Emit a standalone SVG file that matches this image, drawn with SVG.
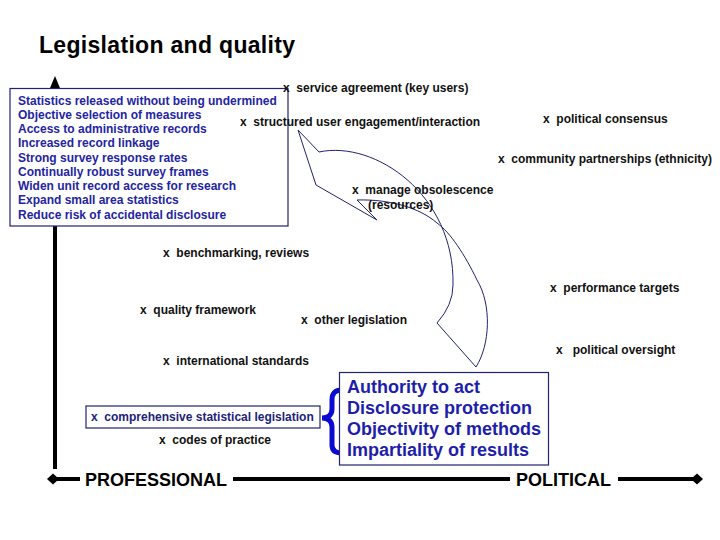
<svg xmlns="http://www.w3.org/2000/svg" width="720" height="540" viewBox="0 0 720 540">
<style>
.t{font-family:"Liberation Sans",Arial,sans-serif;font-weight:bold;font-size:12px;fill:#111}
.b{font-family:"Liberation Sans",Arial,sans-serif;font-weight:bold;font-size:12px;fill:#2424a2}
.a{font-family:"Liberation Sans",Arial,sans-serif;font-weight:bold;font-size:18px;fill:#1e1eaa}
.ax{font-family:"Liberation Sans",Arial,sans-serif;font-weight:bold;font-size:18px;fill:#000}
.box{fill:#fff;stroke:#22226e;stroke-width:1.2}
.axis{stroke:#000;stroke-width:4;fill:none}
.arr{fill:none;stroke:#22226e;stroke-width:1}
</style>
<rect width="720" height="540" fill="#fff"/>
<g id="title"><text x="39" y="53" font-family="Liberation Sans, Arial, sans-serif" font-weight="bold" font-size="23" fill="#000" textLength="256">Legislation and quality</text></g>
<g id="axes">
<polygon points="55,76 50,88 60,88" fill="#000"/>
<line class="axis" x1="55" y1="86" x2="55" y2="469"/>
<line class="axis" x1="57" y1="479" x2="80" y2="479"/>
<line class="axis" x1="233" y1="479" x2="510" y2="479"/>
<line class="axis" x1="618" y1="479" x2="694" y2="479"/>
<polygon points="47,479 53,473.5 59,479 53,484.5" fill="#000"/>
<polygon points="691,479 697,473.5 703,479 697,484.5" fill="#000"/>
<text class="ax" x="85" y="485.5">PROFESSIONAL</text>
<text class="ax" x="516" y="485.5">POLITICAL</text>
</g>
<g id="connectors">
<path class="arr" d="M298,130 L319,152 C375,140 455,195 453,285 Q453,305 437,323 L476,367 C490,345 492,305 477,280 C465,255 450,232 437,223 C420,208 390,199 357,200 L377,220 L316,185 Z"/>
<path d="M342,390 C335,390 332,393 332,400 L332,409 C332,415 328,418 322,418 C328,418 332,421 332,427 L332,445 C332,450 335,453 342,453" fill="none" stroke="#0a0ad2" stroke-width="5"/>
</g>
<g id="stats-box">
<rect class="box" x="10" y="88.5" width="278" height="137.5"/>
<text class="b" x="18" y="104.5">Statistics released without being undermined</text>
<text class="b" x="18" y="118.7">Objective selection of measures</text>
<text class="b" x="18" y="133">Access to administrative records</text>
<text class="b" x="18" y="147.2">Increased record linkage</text>
<text class="b" x="18" y="161.5">Strong survey response rates</text>
<text class="b" x="18" y="175.7">Continually robust survey frames</text>
<text class="b" x="18" y="190">Widen unit record access for research</text>
<text class="b" x="18" y="204.2">Expand small area statistics</text>
<text class="b" x="18" y="218.5">Reduce risk of accidental disclosure</text>
</g>
<g id="lbl-service"><text class="t" x="283" y="92" xml:space="preserve">x  service agreement (key users)</text></g>
<g id="lbl-structured"><text class="t" x="240" y="126" xml:space="preserve">x  structured user engagement/interaction</text></g>
<g id="lbl-consensus"><text class="t" x="543" y="123" xml:space="preserve">x  political consensus</text></g>
<g id="lbl-community"><text class="t" x="498" y="163" xml:space="preserve">x  community partnerships (ethnicity)</text></g>
<g id="lbl-obsolescence"><text class="t" x="352" y="194" xml:space="preserve">x  manage obsolescence</text><text class="t" x="368" y="208.5">(resources)</text></g>
<g id="lbl-benchmarking"><text class="t" x="163" y="257" xml:space="preserve">x  benchmarking, reviews</text></g>
<g id="lbl-performance"><text class="t" x="550" y="292" xml:space="preserve">x  performance targets</text></g>
<g id="lbl-quality"><text class="t" x="140" y="314" xml:space="preserve">x  quality framework</text></g>
<g id="lbl-other"><text class="t" x="301" y="324" xml:space="preserve">x  other legislation</text></g>
<g id="lbl-oversight"><text class="t" x="556" y="354" xml:space="preserve">x   political oversight</text></g>
<g id="lbl-international"><text class="t" x="163" y="365" xml:space="preserve">x  international standards</text></g>
<g id="box-legislation">
<rect class="box" x="86" y="406" width="234" height="22"/>
<text class="t" x="91" y="421" fill="#1e1e7a" style="fill:#1e1e7a" xml:space="preserve">x  comprehensive statistical legislation</text>
</g>
<g id="lbl-codes"><text class="t" x="159" y="444" xml:space="preserve">x  codes of practice</text></g>
<g id="box-authority">
<rect class="box" x="339.5" y="372.5" width="209" height="92.5"/>
<text class="a" x="347" y="393.3">Authority to act</text>
<text class="a" x="347" y="414.3">Disclosure protection</text>
<text class="a" x="347" y="435">Objectivity of methods</text>
<text class="a" x="347" y="455.7">Impartiality of results</text>
</g>
</svg>
